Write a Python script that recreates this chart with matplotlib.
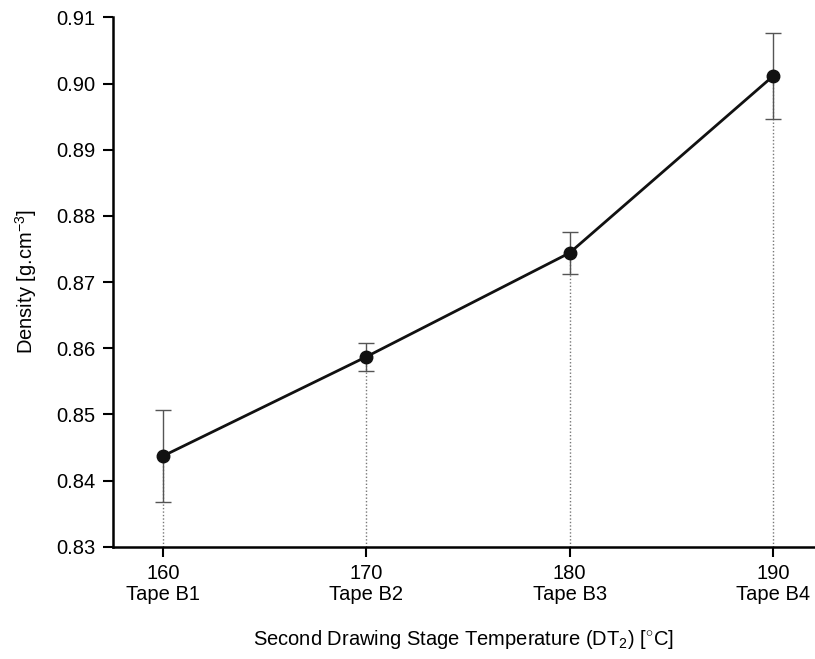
import matplotlib
matplotlib.use("Agg")
import matplotlib.pyplot as plt

plt.rcParams['font.family'] = ['Liberation Sans', 'DejaVu Sans']
plt.rcParams['mathtext.fontset'] = 'custom'
plt.rcParams['mathtext.rm'] = 'Liberation Sans'
plt.rcParams['mathtext.it'] = 'Liberation Sans'

temps = [160, 170, 180, 190]
tapes = ["Tape B1", "Tape B2", "Tape B3", "Tape B4"]
density = [0.8437, 0.8587, 0.8744, 0.9011]
err = [0.0069, 0.0021, 0.0032, 0.0065]

fig = plt.figure(figsize=(8.15, 6.59), dpi=100)
ax = fig.add_axes([0.1383, 0.1704, 0.8617, 0.8033])

# dotted drop lines down to the axis
for t, d in zip(temps, density):
    ax.plot([t, t], [0.83, d], ls=(0, (1, 1.5)), color='#777777', lw=1, zorder=1)

ax.errorbar(temps, density, yerr=err, fmt='none', ecolor='#555555',
            elinewidth=1, capsize=6, capthick=1, zorder=2)
ax.plot(temps, density, '-o', color='#111111', lw=2, ms=9, zorder=3)

ax.set_xlim(157.53, 192.07)
ax.set_ylim(0.83, 0.91)
ax.set_xticks(temps)
ax.set_xticklabels([f"{t}\n{n}" for t, n in zip(temps, tapes)], linespacing=1.15)
ax.set_yticks([0.83, 0.84, 0.85, 0.86, 0.87, 0.88, 0.89, 0.90, 0.91])
ax.set_yticklabels([f"{v:.2f}" for v in ax.get_yticks()])

for s in ['top', 'right']:
    ax.spines[s].set_visible(False)
for s in ['left', 'bottom']:
    ax.spines[s].set_linewidth(1.8)
ax.tick_params(direction='out', length=7.5, width=1.5, labelsize=14.5, pad=5)

ax.set_xlabel(r"Second Drawing Stage Temperature (DT$_2$) [$^{\circ}$C]", fontsize=14.5, labelpad=17)
ax.set_ylabel(r"Density [g.cm$^{-3}$]", fontsize=14.5, labelpad=12)

fig.savefig("out.png", dpi=100)
